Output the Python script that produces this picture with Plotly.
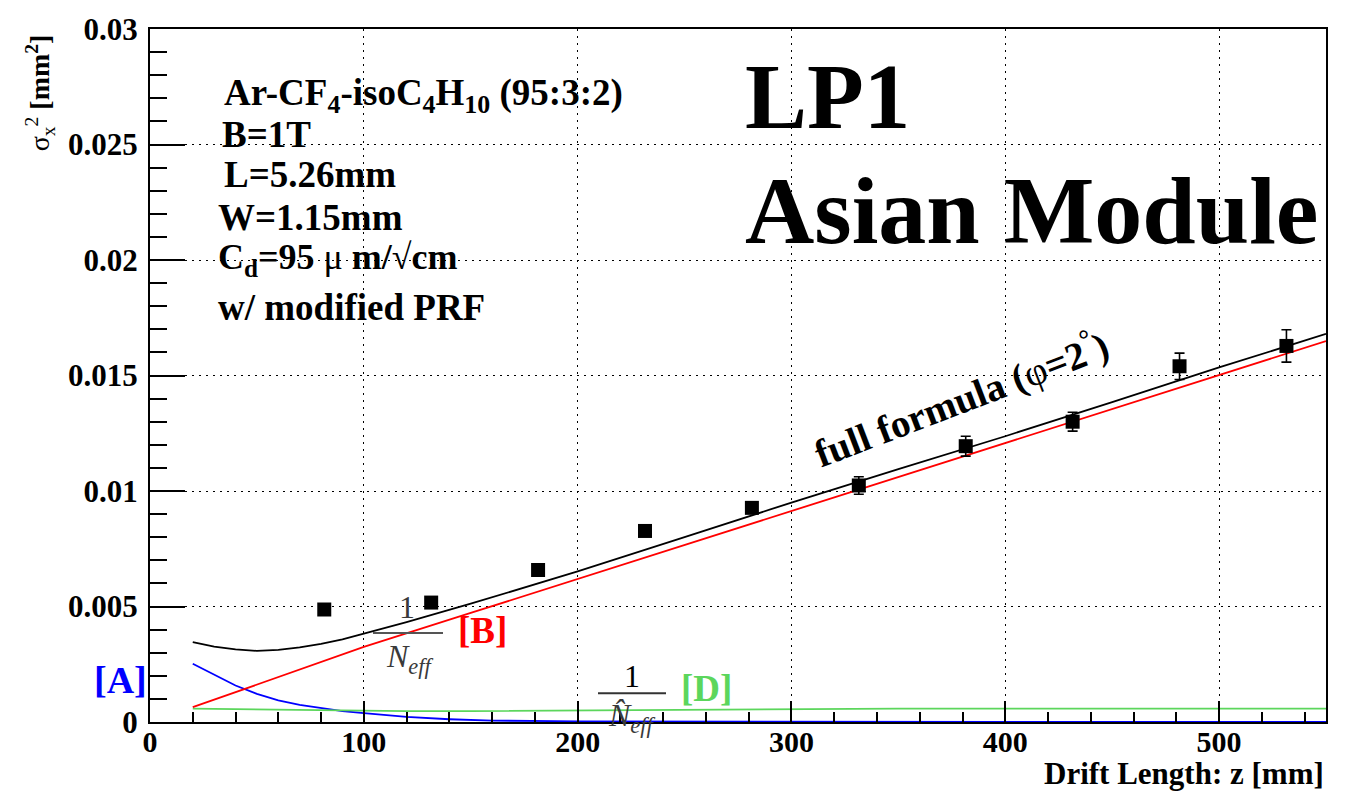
import plotly.graph_objects as go

# ---- data ----
drift_z = [81.5, 131.5, 181.5, 231.5, 281.5, 331.5, 381.5, 431.5, 481.5, 531.5]
sigma2 = [0.00487, 0.00517, 0.00658, 0.00827, 0.00927, 0.01024, 0.01194, 0.01300, 0.01540, 0.01628]
sigma2_err = [0.0002, 0.0002, 0.0002, 0.0002, 0.0002, 0.00038, 0.00043, 0.00041, 0.00057, 0.00070]

full_z = [20, 30, 40, 50, 60, 70, 80, 90, 100, 120, 150, 200, 250, 300, 350, 400, 450, 500, 550]
full_y = [0.00346, 0.00326, 0.00314, 0.00308, 0.00312, 0.00323, 0.00338, 0.00358, 0.00383, 0.00432,
          0.00512, 0.00652, 0.00800, 0.00950, 0.01095, 0.01237, 0.01385, 0.01535, 0.01680]

termB_z = [20, 50, 100, 150, 200, 250, 300, 350, 400, 450, 500, 550]
termB_y = [0.00064, 0.00162, 0.00325, 0.00472, 0.00619, 0.00767, 0.00914, 0.01061, 0.01208,
           0.01355, 0.01502, 0.01649]

termA_z = [20, 30, 40, 50, 60, 70, 80, 90, 100, 120, 140, 160, 200, 300, 400, 550]
termA_y = [0.00252, 0.00205, 0.00158, 0.00122, 0.00094, 0.00074, 0.00060, 0.00047, 0.00038,
           0.00022, 0.00012, 0.00006, 0.00003, 0.00001, 0.00000, 0.00000]

termD_z = [20, 40, 60, 80, 100, 120, 150, 200, 250, 300, 350, 400, 450, 500, 550]
termD_y = [0.00058, 0.00056, 0.00053, 0.00050, 0.00048, 0.00047, 0.00047, 0.00050, 0.00055,
           0.00058, 0.00058, 0.00058, 0.00058, 0.00058, 0.00058]

x_range = [0, 550]
y_range = [0, 0.03]
y_ticks = [0, 0.005, 0.01, 0.015, 0.02, 0.025, 0.03]
y_ticklabels = ["0", "0.005", "0.01", "0.015", "0.02", "0.025", "0.03"]
x_ticks = [0, 100, 200, 300, 400, 500]
x_ticklabels = ["0", "100", "200", "300", "400", "500"]

SERIF = "Liberation Serif, Times New Roman, serif"
GREEN = "#5cd65c"

fig = go.Figure()
fig.add_trace(go.Scatter(x=termA_z, y=termA_y, mode="lines", line=dict(color="#0000ff", width=1.8)))
fig.add_trace(go.Scatter(x=termD_z, y=termD_y, mode="lines", line=dict(color=GREEN, width=1.8)))
fig.add_trace(go.Scatter(x=termB_z, y=termB_y, mode="lines", line=dict(color="#ff0000", width=1.8)))
fig.add_trace(go.Scatter(x=full_z, y=full_y, mode="lines", line=dict(color="black", width=1.8)))
fig.add_trace(go.Scatter(
    x=drift_z, y=sigma2, mode="markers",
    marker=dict(symbol="square", size=14, color="black"),
    error_y=dict(type="data", array=sigma2_err, color="black", thickness=1.6, width=5),
))

# plot-area geometry (pixels) used only to place text in paper coordinates
L, R, T, B = 150, 1326, 22, 722
def px(xp):
    return (xp - L) / (R - L)
def py(yp):
    return (B - yp) / (B - T)

ann = []
def txt(xp, yp, s, size=38, color="black", xanchor="left", angle=0, family=SERIF):
    ann.append(dict(x=px(xp), y=py(yp), xref="paper", yref="paper", text=s, showarrow=False,
                    xanchor=xanchor, yanchor="middle", textangle=angle,
                    font=dict(family=family, size=size, color=color)))

txt(222, 89, "<b>Ar-CF<sub>4</sub>-isoC<sub>4</sub>H<sub>10</sub> (95:3:2)</b>", size=37)
txt(220, 129, "<b>B=1T</b>", size=37)
txt(222, 169, "<b>L=5.26mm</b>", size=37)
txt(216, 212, "<b>W=1.15mm</b>", size=37)
txt(216, 255, "<b>C<sub>d</sub>=95</b> μ <b>m/√cm</b>", size=36)
txt(216, 303, "<b>w/ modified PRF</b>", size=37)

txt(827, 90, "<b>LP1</b>", size=93, xanchor="center")
txt(1031, 205, "<b>Asian Module</b>", size=96, xanchor="center")

txt(960, 394, "<b>full formula (</b>φ<b>=2<sup>°</sup>)</b>", size=39, xanchor="center", angle=-21)

txt(120, 680, "<b>[A]</b>", size=38, color="#0000ff", xanchor="center")
txt(482, 630, "<b>[B]</b>", size=37, color="#ff0000", xanchor="center")
txt(706, 688, "<b>[D]</b>", size=37, color=GREEN, xanchor="center")

GRAY = "#3a3a3a"
txt(407, 606, "1", size=32, color=GRAY, xanchor="center")
txt(410, 658, "<i>N<sub>eff</sub></i>", size=32, color=GRAY, xanchor="center")
txt(632, 676, "1", size=32, color="black", xanchor="center")
txt(632, 717, "<i>N\u0302<sub>eff</sub></i>", size=32, color=GRAY, xanchor="center")

# axis titles
ann.append(dict(x=1.0, y=py(774), xref="paper", yref="paper", text="<b>Drift Length: z [mm]</b>",
                showarrow=False, xanchor="right", yanchor="middle",
                font=dict(family=SERIF, size=31, color="black")))
ann.append(dict(x=px(40), y=py(86), xref="paper", yref="paper",
                text="σ<sub>x</sub><sup>2</sup> <b>[mm<sup>2</sup>]</b>",
                showarrow=False, textangle=-90, xanchor="center", yanchor="middle",
                font=dict(family=SERIF, size=28, color="black")))

shapes = [
    dict(type="line", xref="paper", yref="paper", x0=px(373), x1=px(443), y0=py(632), y1=py(632),
         line=dict(color="#555555", width=2)),
    dict(type="line", xref="paper", yref="paper", x0=px(598), x1=px(666), y0=py(693), y1=py(693),
         line=dict(color="#333333", width=2)),
]

fig.update_layout(
    width=1354, height=791,
    margin=dict(l=150, r=28, t=22, b=69),
    paper_bgcolor="white", plot_bgcolor="white",
    showlegend=False,
    annotations=ann,
    shapes=shapes,
    font=dict(family=SERIF, color="black"),
)
fig.update_xaxes(
    range=x_range, tickmode="array", tickvals=x_ticks, ticktext=x_ticklabels,
    ticks="inside", ticklen=21, tickwidth=1.5, tickcolor="black",
    showline=True, linecolor="black", linewidth=2, mirror=True,
    showgrid=True, gridcolor="black", gridwidth=1.3, griddash="2px,5px",
    zeroline=False,
    tickfont=dict(family=SERIF, size=30, color="black", weight="bold"), ticklabelstandoff=-8,
    minor=dict(dtick=20, ticks="inside", ticklen=10, tickwidth=1.5, tickcolor="black", showgrid=False),
)
fig.update_yaxes(
    range=y_range, tickmode="array", tickvals=y_ticks, ticktext=y_ticklabels,
    ticks="inside", ticklen=35, tickwidth=1.5, tickcolor="black",
    showline=True, linecolor="black", linewidth=2, mirror=True,
    showgrid=True, gridcolor="black", gridwidth=1.3, griddash="2px,5px",
    zeroline=False,
    tickfont=dict(family=SERIF, size=31, color="black", weight="bold"), ticklabelstandoff=4,
    minor=dict(dtick=0.001, ticks="inside", ticklen=17, tickwidth=1.5, tickcolor="black", showgrid=False),
)

fig.write_html("out.html", config={"displayModeBar": False},
               post_script="document.body.style.margin='0';")
